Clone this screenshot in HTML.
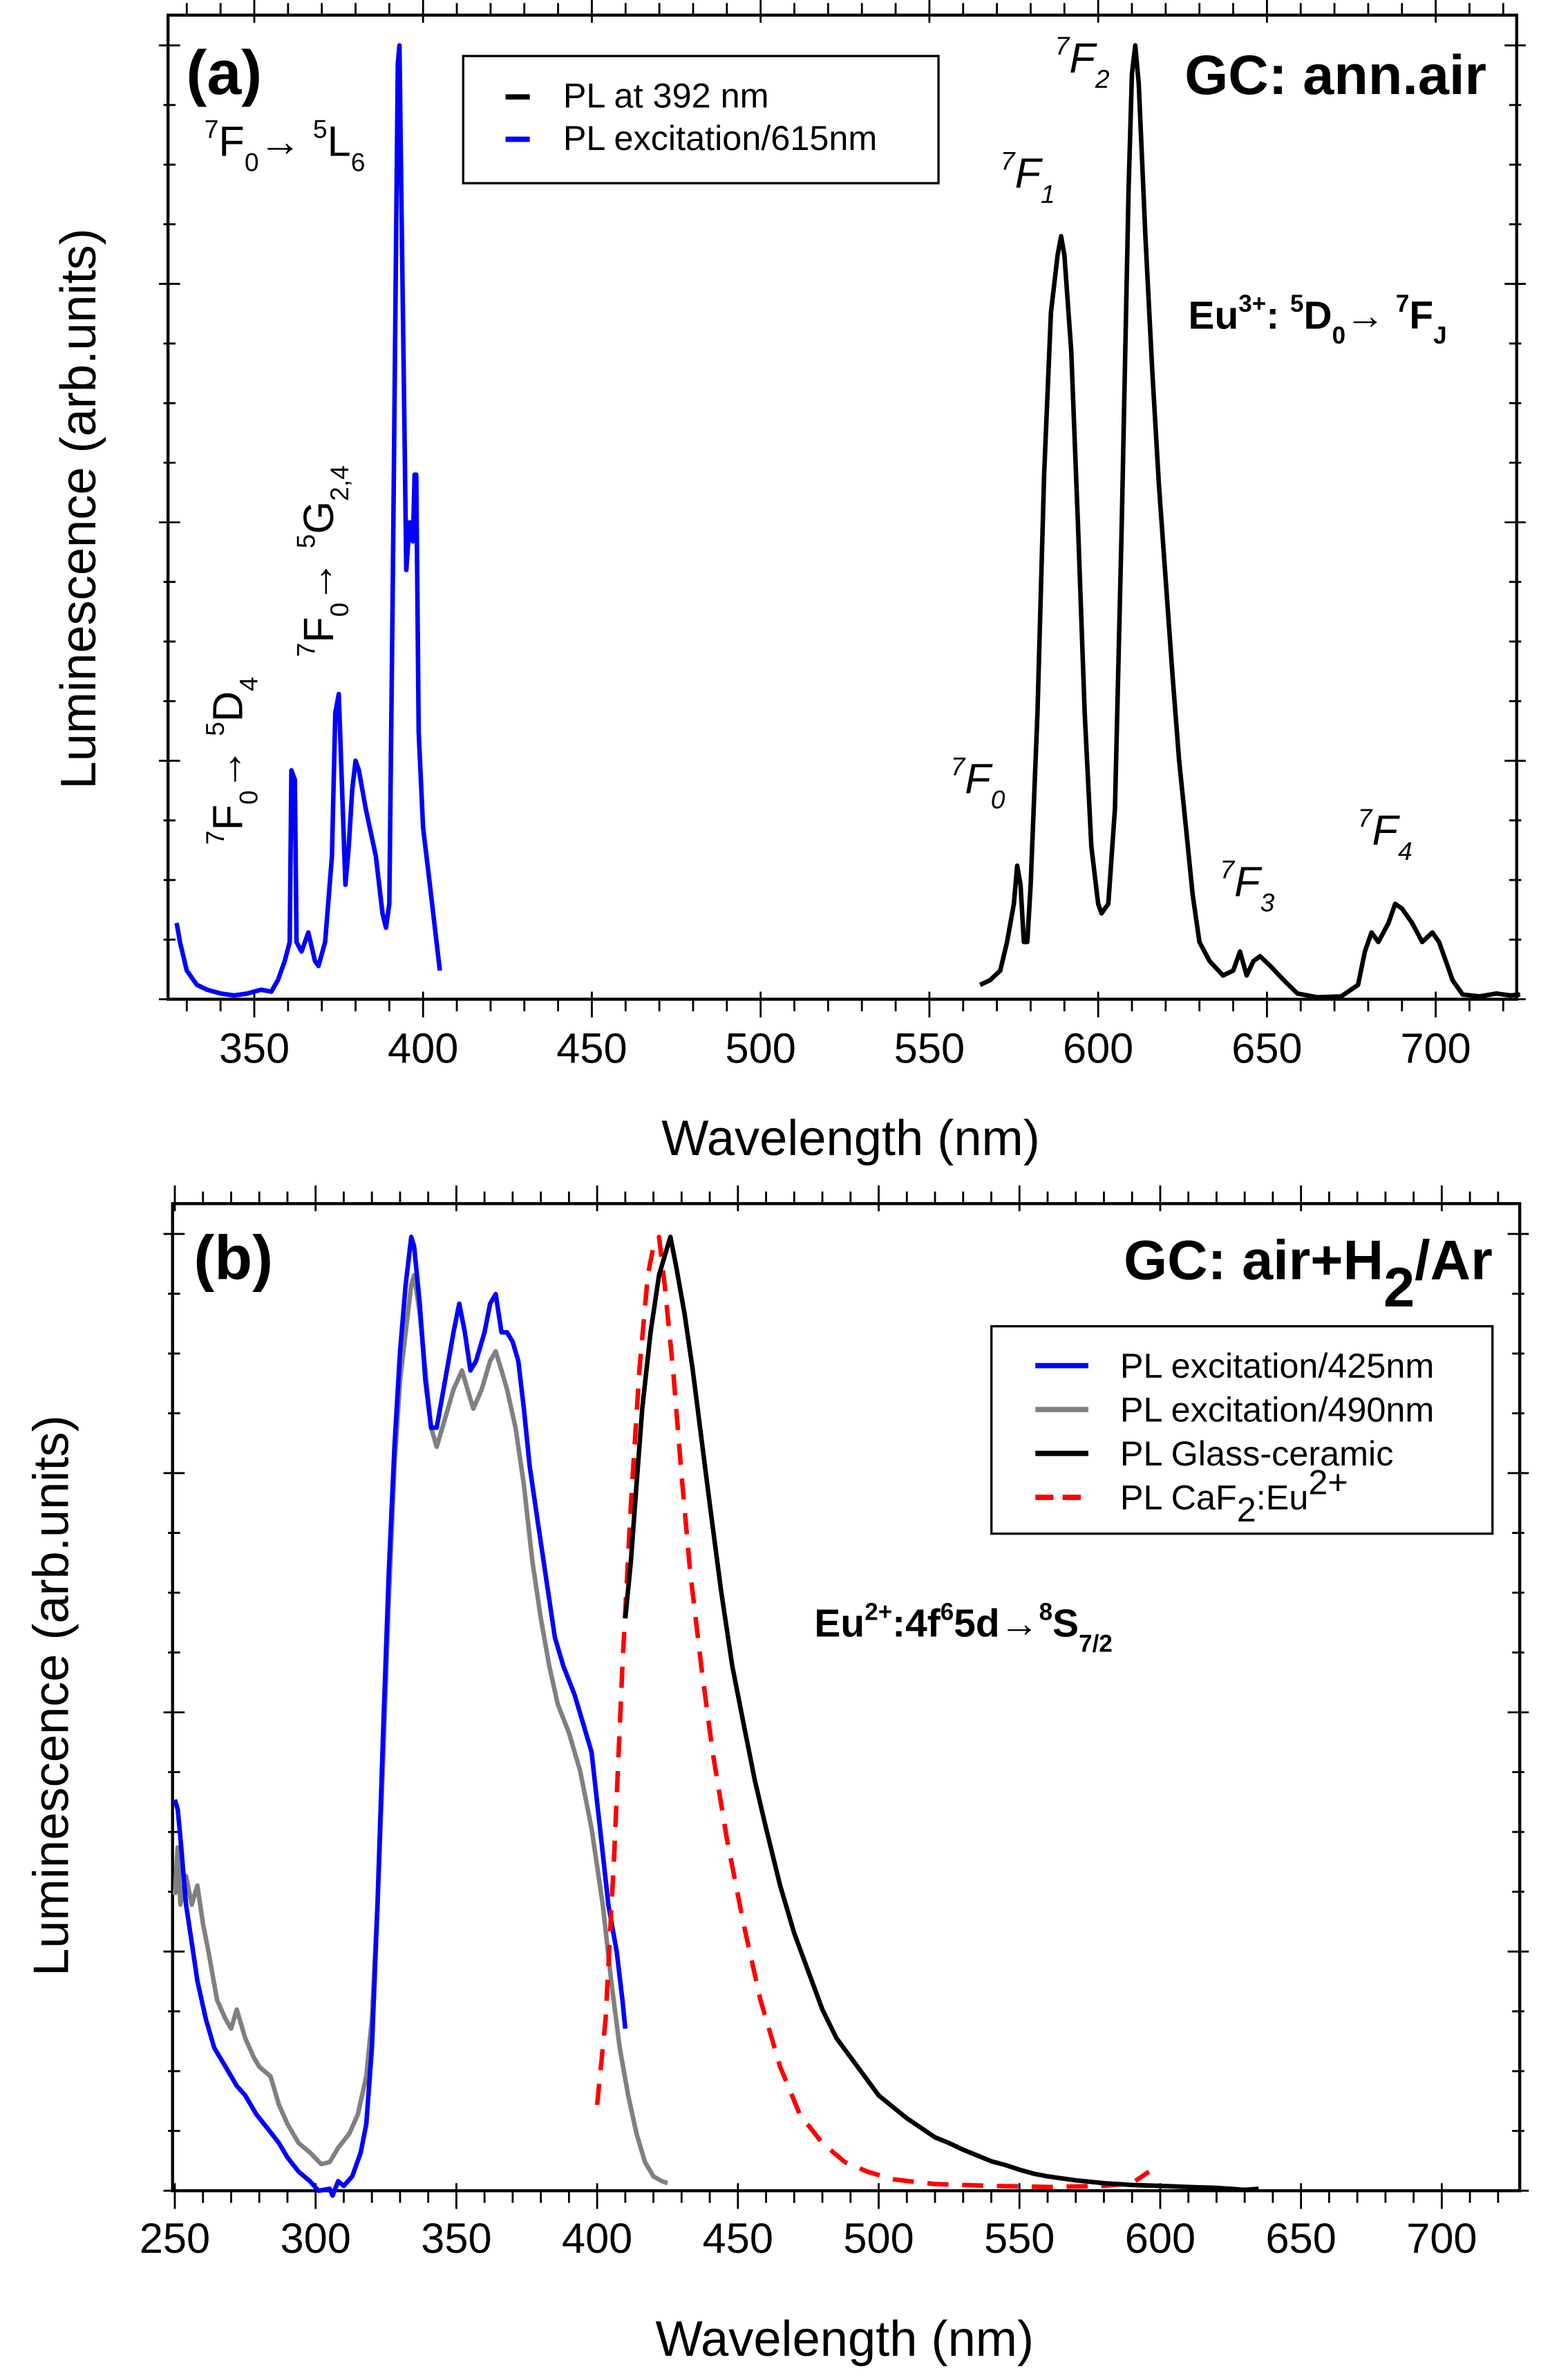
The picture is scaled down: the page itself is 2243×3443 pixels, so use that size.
<!DOCTYPE html>
<html><head><meta charset="utf-8"><style>
html,body{margin:0;padding:0;background:#fff;}
svg{display:block;}
text{font-family:"Liberation Sans",Arial,sans-serif;}
</style></head><body>
<svg id="s" width="2243" height="3443" viewBox="0 0 1024 1572" preserveAspectRatio="none" xmlns="http://www.w3.org/2000/svg">
<rect width="1024" height="1572" fill="#fff"/>
<g id="g"></g>
<!-- Panel a texts -->
<text x="123" y="62" font-size="41" font-weight="bold">(a)</text>
<text x="982" y="62" font-size="37" font-weight="bold" text-anchor="end">GC: ann.air</text>
<rect x="306" y="37" width="314" height="84" fill="#fff" stroke="#000" stroke-width="1.5"/>
<line x1="334" y1="64" x2="350" y2="64" stroke="#000" stroke-width="3.5"/>
<line x1="334" y1="92" x2="350" y2="92" stroke="#00f" stroke-width="3.5"/>
<text x="372" y="71" font-size="23">PL at 392 nm</text>
<text x="372" y="99" font-size="23">PL excitation/615nm</text>
<text x="135" y="103" font-size="28"><tspan font-size="17" dy="-12">7</tspan><tspan dy="12">F</tspan><tspan font-size="17" dy="10">0</tspan><tspan dy="-10">→ </tspan><tspan font-size="17" dy="-12">5</tspan><tspan dy="12">L</tspan><tspan font-size="17" dy="10">6</tspan></text>
<text transform="translate(160,558) rotate(-90)" font-size="28"><tspan font-size="17" dy="-12">7</tspan><tspan dy="12">F</tspan><tspan font-size="17" dy="10">0</tspan><tspan dy="-10">→ </tspan><tspan font-size="17" dy="-12">5</tspan><tspan dy="12">D</tspan><tspan font-size="17" dy="10">4</tspan></text>
<text transform="translate(220,434) rotate(-90)" font-size="28"><tspan font-size="17" dy="-12">7</tspan><tspan dy="12">F</tspan><tspan font-size="17" dy="10">0</tspan><tspan dy="-10">→ </tspan><tspan font-size="17" dy="-12">5</tspan><tspan dy="12">G</tspan><tspan font-size="17" dy="10">2,4</tspan></text>
<g font-size="28" font-style="italic">
<text x="697" y="48"><tspan font-size="17" dy="-12">7</tspan><tspan dy="12">F</tspan><tspan font-size="17" dy="10">2</tspan></text>
<text x="661" y="124"><tspan font-size="17" dy="-12">7</tspan><tspan dy="12">F</tspan><tspan font-size="17" dy="10">1</tspan></text>
<text x="628" y="524"><tspan font-size="17" dy="-12">7</tspan><tspan dy="12">F</tspan><tspan font-size="17" dy="10">0</tspan></text>
<text x="806" y="592"><tspan font-size="17" dy="-12">7</tspan><tspan dy="12">F</tspan><tspan font-size="17" dy="10">3</tspan></text>
<text x="897" y="558"><tspan font-size="17" dy="-12">7</tspan><tspan dy="12">F</tspan><tspan font-size="17" dy="10">4</tspan></text>
</g>
<text x="785" y="217" font-size="26" font-weight="bold">Eu<tspan font-size="16" dy="-11">3+</tspan><tspan dy="11">: </tspan><tspan font-size="16" dy="-11">5</tspan><tspan dy="11">D</tspan><tspan font-size="16" dy="10">0</tspan><tspan dy="-10">→ </tspan><tspan font-size="16" dy="-11">7</tspan><tspan dy="11">F</tspan><tspan font-size="16" dy="10">J</tspan></text>
<text transform="translate(63,336) rotate(-90)" font-size="33" text-anchor="middle">Luminescence (arb.units)</text>
<text x="562" y="763" font-size="33" text-anchor="middle">Wavelength (nm)</text>
<!-- Panel b texts -->
<text x="128" y="845" font-size="41" font-weight="bold">(b)</text>
<text x="986" y="845" font-size="37" font-weight="bold" text-anchor="end">GC: air+H<tspan dy="18">2</tspan><tspan dy="-18">/Ar</tspan></text>
<rect x="655" y="876" width="331" height="137" fill="#fff" stroke="#000" stroke-width="1.5"/>
<line x1="684" y1="902" x2="719" y2="902" stroke="#00f" stroke-width="3.5"/>
<line x1="684" y1="931" x2="719" y2="931" stroke="#808080" stroke-width="3.5"/>
<line x1="684" y1="960" x2="719" y2="960" stroke="#000" stroke-width="3.5"/>
<line x1="684" y1="989" x2="719" y2="989" stroke="#f00" stroke-width="3.5" stroke-dasharray="12,6"/>
<g font-size="23">
<text x="740" y="910">PL excitation/425nm</text>
<text x="740" y="939">PL excitation/490nm</text>
<text x="740" y="968">PL Glass-ceramic</text>
<text x="740" y="997">PL CaF<tspan dy="8">2</tspan><tspan dy="-8">:Eu</tspan><tspan dy="-10">2+</tspan></text>
</g>
<text x="538" y="1081" font-size="26" font-weight="bold">Eu<tspan font-size="16" dy="-11">2+</tspan><tspan dy="11">:4f</tspan><tspan font-size="16" dy="-11">6</tspan><tspan dy="11">5d→</tspan><tspan font-size="16" dy="-11">8</tspan><tspan dy="11">S</tspan><tspan font-size="16" dy="10">7/2</tspan></text>
<text transform="translate(45,1120) rotate(-90)" font-size="33" text-anchor="middle">Luminescence (arb.units)</text>
<text x="558" y="1556" font-size="33" text-anchor="middle">Wavelength (nm)</text>
</svg>
<script>
var g=document.getElementById('g'),NS='http://www.w3.org/2000/svg';
function el(n,a){var e=document.createElementNS(NS,n);for(var k in a)e.setAttribute(k,a[k]);g.appendChild(e);return e;}
function panel(L,R,T,B,x0,n0,ppn,xmin,xmax,labels,ly){
  for(var nm=Math.ceil(xmin/10)*10;nm<=xmax;nm+=10){
    var x=x0+(nm-n0)*ppn,maj=nm%50==0;
    el('line',{x1:x,y1:B-(maj?5:0),x2:x,y2:B+(maj?12:8),stroke:'#000','stroke-width':1.3});
    el('line',{x1:x,y1:T+(maj?5:0),x2:x,y2:T-(maj?12:8),stroke:'#000','stroke-width':1.3});
    if(maj&&labels){var t=el('text',{x:x,y:ly,'font-size':28,'text-anchor':'middle'});t.textContent=nm;}
  }
  var top=T+20;
  for(var i=0;i<=16;i++){
    var y=B-(B-top)*i/16,maj=i%4==0;
    el('line',{x1:L-(maj?6:3),y1:y,x2:L+(maj?8:5),y2:y,stroke:'#000','stroke-width':1.3});
    el('line',{x1:R+(maj?6:3),y1:y,x2:R-(maj?8:5),y2:y,stroke:'#000','stroke-width':1.3});
  }
  el('rect',{x:L,y:T,width:R-L,height:B-T,fill:'none',stroke:'#000','stroke-width':2});
}
function curve(pts,x0,n0,ppn,B,H,col,dash){
  var d='';
  for(var i=0;i<pts.length;i+=2){d+=(i?'L':'M')+(x0+(pts[i]-n0)*ppn).toFixed(1)+','+(B-pts[i+1]*H).toFixed(1);}
  var a={d:d,fill:'none',stroke:col,'stroke-width':3,'stroke-linejoin':'round'};
  if(dash)a['stroke-dasharray']=dash;
  el('path',a);
}
var aL=111,aR=1002,aT=10,aB=660,ax0=168,an0=350,appn=2.23,aH=630;
panel(aL,aR,aT,aB,ax0,an0,appn,327,725,true,702);
curve([327,0.08,328,0.06,330,0.03,333,0.015,336,0.01,340,0.006,344,0.004,348,0.006,352,0.01,355,0.008,357,0.02,359,0.04,360.5,0.06,361,0.24,362,0.23,362.5,0.06,364,0.05,366,0.07,368,0.04,369,0.035,371,0.06,373,0.15,374,0.3,375,0.32,376,0.22,377,0.12,378,0.16,379,0.22,380,0.25,381,0.24,383,0.2,386,0.15,388,0.09,389,0.075,390,0.1,391,0.42,392,0.8,392.5,0.98,393,1.0,393.7,0.8,394.5,0.6,395,0.45,396,0.5,397,0.48,397.5,0.55,398,0.55,398.7,0.28,400,0.18,402,0.12,405,0.03],ax0,an0,appn,aB,aH,'#00f');
curve([565,0.015,568,0.02,571,0.03,573,0.06,575,0.1,576,0.14,577,0.12,578,0.06,579,0.06,580,0.12,582,0.3,584,0.55,586,0.72,588,0.78,589,0.8,590,0.78,592,0.68,594,0.5,596,0.3,598,0.16,600,0.1,601,0.09,603,0.1,605,0.2,607,0.5,609,0.85,610,0.97,611,1.0,612,0.96,614,0.8,616,0.66,618,0.54,620,0.44,622,0.34,624,0.25,626,0.18,628,0.11,630,0.06,633,0.04,637,0.025,640,0.03,642,0.05,644,0.025,646,0.04,648,0.045,651,0.035,655,0.02,659,0.006,665,0.002,672,0.003,677,0.015,679,0.05,681,0.07,683,0.06,686,0.08,688,0.1,690,0.095,693,0.08,696,0.06,699,0.07,701,0.06,703,0.04,705,0.02,708,0.005,713,0.003,718,0.006,722,0.004,725,0.005],ax0,an0,appn,aB,aH,'#000');
var bL=114,bR=1004,bT=795,bB=1447,bx0=115.5,bn0=250,bppn=1.86,bH=630;
panel(bL,bR,bT,bB,bx0,bn0,bppn,250,722,true,1488);
curve([250,0.31,251,0.36,252,0.3,254,0.33,256,0.3,258,0.32,260,0.28,262,0.25,265,0.2,268,0.18,270,0.17,272,0.19,275,0.16,278,0.14,280,0.13,284,0.12,287,0.09,290,0.07,294,0.05,298,0.04,302,0.028,305,0.03,308,0.045,312,0.06,315,0.08,318,0.12,320,0.18,322,0.3,324,0.45,326,0.62,328,0.76,330,0.85,332,0.9,334,0.95,335,0.96,337,0.92,339,0.86,341,0.8,343,0.78,346,0.81,349,0.84,352,0.86,354,0.84,356,0.82,359,0.84,362,0.87,364,0.88,366,0.86,368,0.84,371,0.8,374,0.74,377,0.66,380,0.6,383,0.55,386,0.51,390,0.48,394,0.44,398,0.38,402,0.3,405,0.22,408,0.15,411,0.1,414,0.06,417,0.03,420,0.015,423,0.01,425,0.008],bx0,bn0,bppn,bB,bH,'#808080');
curve([250,0.41,251,0.4,252,0.37,254,0.3,256,0.26,258,0.22,261,0.18,264,0.15,268,0.13,272,0.11,275,0.1,279,0.08,283,0.065,287,0.05,290,0.035,294,0.02,298,0.01,301,0.0,305,0.002,306,-0.005,308,0.01,310,0.005,313,0.015,316,0.04,318,0.07,320,0.15,322,0.3,324,0.48,326,0.65,328,0.78,330,0.88,332,0.95,334,1.0,335,0.99,337,0.93,339,0.85,341,0.8,343,0.8,346,0.85,349,0.9,351,0.93,353,0.9,355,0.86,357,0.87,360,0.9,362,0.93,364,0.94,366,0.9,368,0.9,370,0.89,372,0.87,374,0.82,376,0.76,379,0.7,382,0.64,385,0.58,388,0.55,392,0.52,395,0.49,398,0.46,401,0.38,404,0.3,407,0.25,409,0.2,410,0.17],bx0,bn0,bppn,bB,bH,'#00f');
curve([400,0.09,403,0.18,406,0.35,409,0.55,412,0.72,415,0.86,418,0.96,420,0.99,422,1.0,424,0.95,427,0.86,430,0.75,433,0.65,437,0.55,441,0.46,446,0.37,452,0.28,458,0.2,465,0.13,472,0.08,480,0.05,488,0.03,496,0.02,505,0.012,520,0.007,540,0.005,560,0.004,580,0.005,590,0.008,596,0.02],bx0,bn0,bppn,bB,bH,'#f00','14,9');
curve([410,0.6,412,0.66,414,0.74,416,0.82,419,0.9,422,0.96,425,0.99,426,1.0,428,0.97,431,0.92,434,0.86,437,0.79,440,0.72,444,0.63,448,0.55,452,0.49,456,0.43,460,0.38,465,0.32,470,0.27,475,0.23,480,0.19,485,0.16,490,0.14,495,0.12,500,0.1,505,0.088,510,0.076,515,0.066,520,0.056,525,0.05,530,0.043,535,0.037,540,0.031,545,0.027,550,0.022,555,0.018,560,0.015,570,0.011,580,0.008,590,0.006,600,0.005,610,0.004,620,0.003,625,0.002,630,0.001,635,0.002],bx0,bn0,bppn,bB,bH,'#000');
</script>
</body></html>
